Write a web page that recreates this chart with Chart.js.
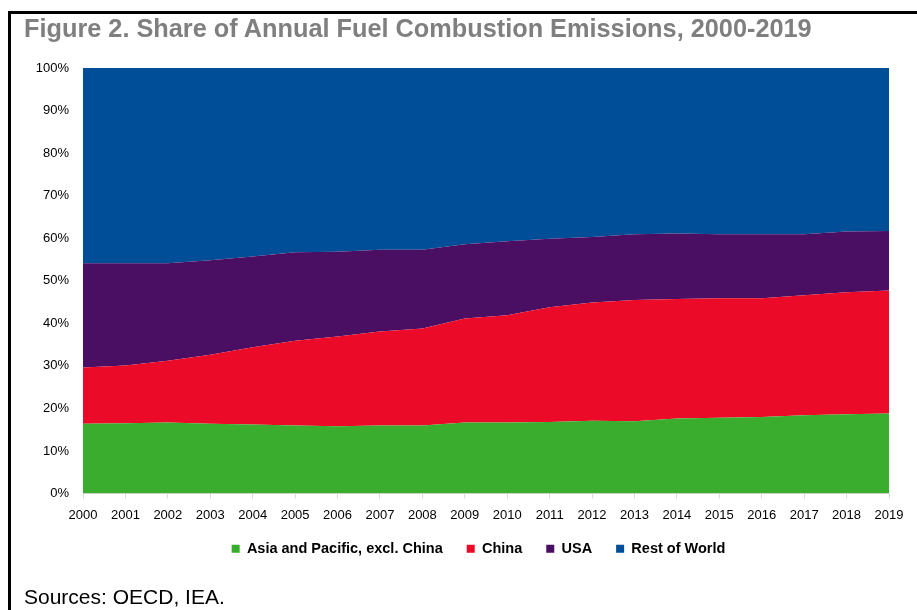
<!DOCTYPE html>
<html>
<head>
<meta charset="utf-8">
<script src="https://cdn.jsdelivr.net/npm/chart.js@4"></script>
<style>
  html, body { margin: 0; padding: 0; background: #fff; }
  body { width: 917px; height: 610px; position: relative; overflow: hidden; font-family: "Liberation Sans", Arial, sans-serif; }
  .frame { position: absolute; left: 8px; top: 11px; width: 960px; height: 640px; border-left: 3px solid #000; border-top: 3px solid #000; }
  .title { position: absolute; left: 24px; top: 14px; font-size: 25.3px; font-weight: bold; color: #7f7f7f; white-space: nowrap; }
  .source { position: absolute; left: 24px; top: 585px; font-size: 21px; color: #000; white-space: nowrap; }
  #chart { position: absolute; left: 0; top: 0; }
</style>
</head>
<body>
<div class="frame"></div>
<canvas id="chart" width="917" height="610"></canvas>
<div class="title">Figure 2. Share of Annual Fuel Combustion Emissions, 2000-2019</div>
<div class="source">Sources: OECD, IEA.</div>
<script>
// Ani si cote de emisii (%)
const years = ['2000', '2001', '2002', '2003', '2004', '2005', '2006', '2007', '2008', '2009',
               '2010', '2011', '2012', '2013', '2014', '2015', '2016', '2017', '2018', '2019'];
const asiaPacific = [16.4, 16.5, 16.7, 16.4, 16.2, 16.0, 15.8, 16.0, 16.0, 16.7,
                     16.7, 16.8, 17.1, 17.0, 17.6, 17.8, 18.0, 18.4, 18.6, 18.8];
const china = [13.2, 13.6, 14.5, 16.2, 18.2, 19.9, 21.1, 22.1, 22.8, 24.4,
               25.2, 27.0, 27.8, 28.5, 28.1, 28.1, 27.9, 28.2, 28.7, 28.9];
const usa = [24.5, 24.0, 22.9, 22.2, 21.3, 20.8, 19.9, 19.2, 18.5, 17.5,
             17.4, 16.1, 15.4, 15.4, 15.4, 15.0, 15.0, 14.3, 14.3, 14.0];
const restOfWorld = [45.9, 45.9, 45.9, 45.2, 44.3, 43.3, 43.2, 42.7, 42.7, 41.4,
                     40.7, 40.1, 39.7, 39.1, 38.9, 39.1, 39.1, 39.1, 38.4, 38.3];
const yTicks = [0, 10, 20, 30, 40, 50, 60, 70, 80, 90, 100];

function area(label, data, color, fill) {
    return {
        label: label,
        data: data,
        backgroundColor: color,
        borderColor: color,
        borderWidth: 0,
        pointRadius: 0,
        fill: fill,
        tension: 0
    };
}

// legenda centrata sub zona de date, putin mai sus
const shiftLegend = {
    id: 'shiftLegend',
    afterLayout(chart) {
        const lg = chart.legend;
        lg.left += 34;
        lg.right += 34;
        lg.top -= 6;
        lg.bottom -= 6;
    }
};

const ctx = document.getElementById('chart').getContext('2d');
new Chart(ctx, {
    type: 'line',
    data: {
        labels: years,
        datasets: [
            area('Asia and Pacific, excl. China', asiaPacific, '#3aad2e', 'origin'),
            area('China', china, '#ec0a29', '-1'),
            area('USA', usa, '#4a0e63', '-1'),
            area('Rest of World', restOfWorld, '#004e98', '-1')
        ]
    },
    plugins: [shiftLegend],
    options: {
        responsive: false,
        animation: false,
        layout: { padding: { top: 68, right: 28, bottom: 38, left: 0 } },
        plugins: {
            title: { display: false },
            tooltip: { enabled: false },
            legend: {
                position: 'bottom',
                labels: {
                    boxWidth: 8,
                    boxHeight: 8,
                    padding: 24,
                    color: '#000',
                    font: { family: '"Liberation Sans", Arial, sans-serif', size: 14.5, weight: 'bold' }
                }
            }
        },
        scales: {
            x: {
                offset: false,
                grid: { drawOnChartArea: false, drawTicks: true, tickLength: 5, color: '#d9d9d9' },
                border: { color: '#d9d9d9', width: 1 },
                ticks: {
                    color: '#000',
                    padding: 9,
                    maxRotation: 0,
                    autoSkip: false,
                    font: { family: '"Liberation Sans", Arial, sans-serif', size: 13 }
                },
                afterFit: function (scale) { scale.height = 30; }
            },
            y: {
                stacked: true,
                min: 0,
                max: 100,
                afterBuildTicks: function (scale) {
                    scale.ticks = yTicks.map(v => ({ value: v }));
                },
                grid: { display: false, drawTicks: false },
                border: { display: false },
                ticks: {
                    color: '#000',
                    padding: 14,
                    callback: v => v + '%',
                    font: { family: '"Liberation Sans", Arial, sans-serif', size: 13 }
                },
                afterFit: function (scale) { scale.width = 83; }
            }
        }
    }
});
</script>
</body>
</html>
